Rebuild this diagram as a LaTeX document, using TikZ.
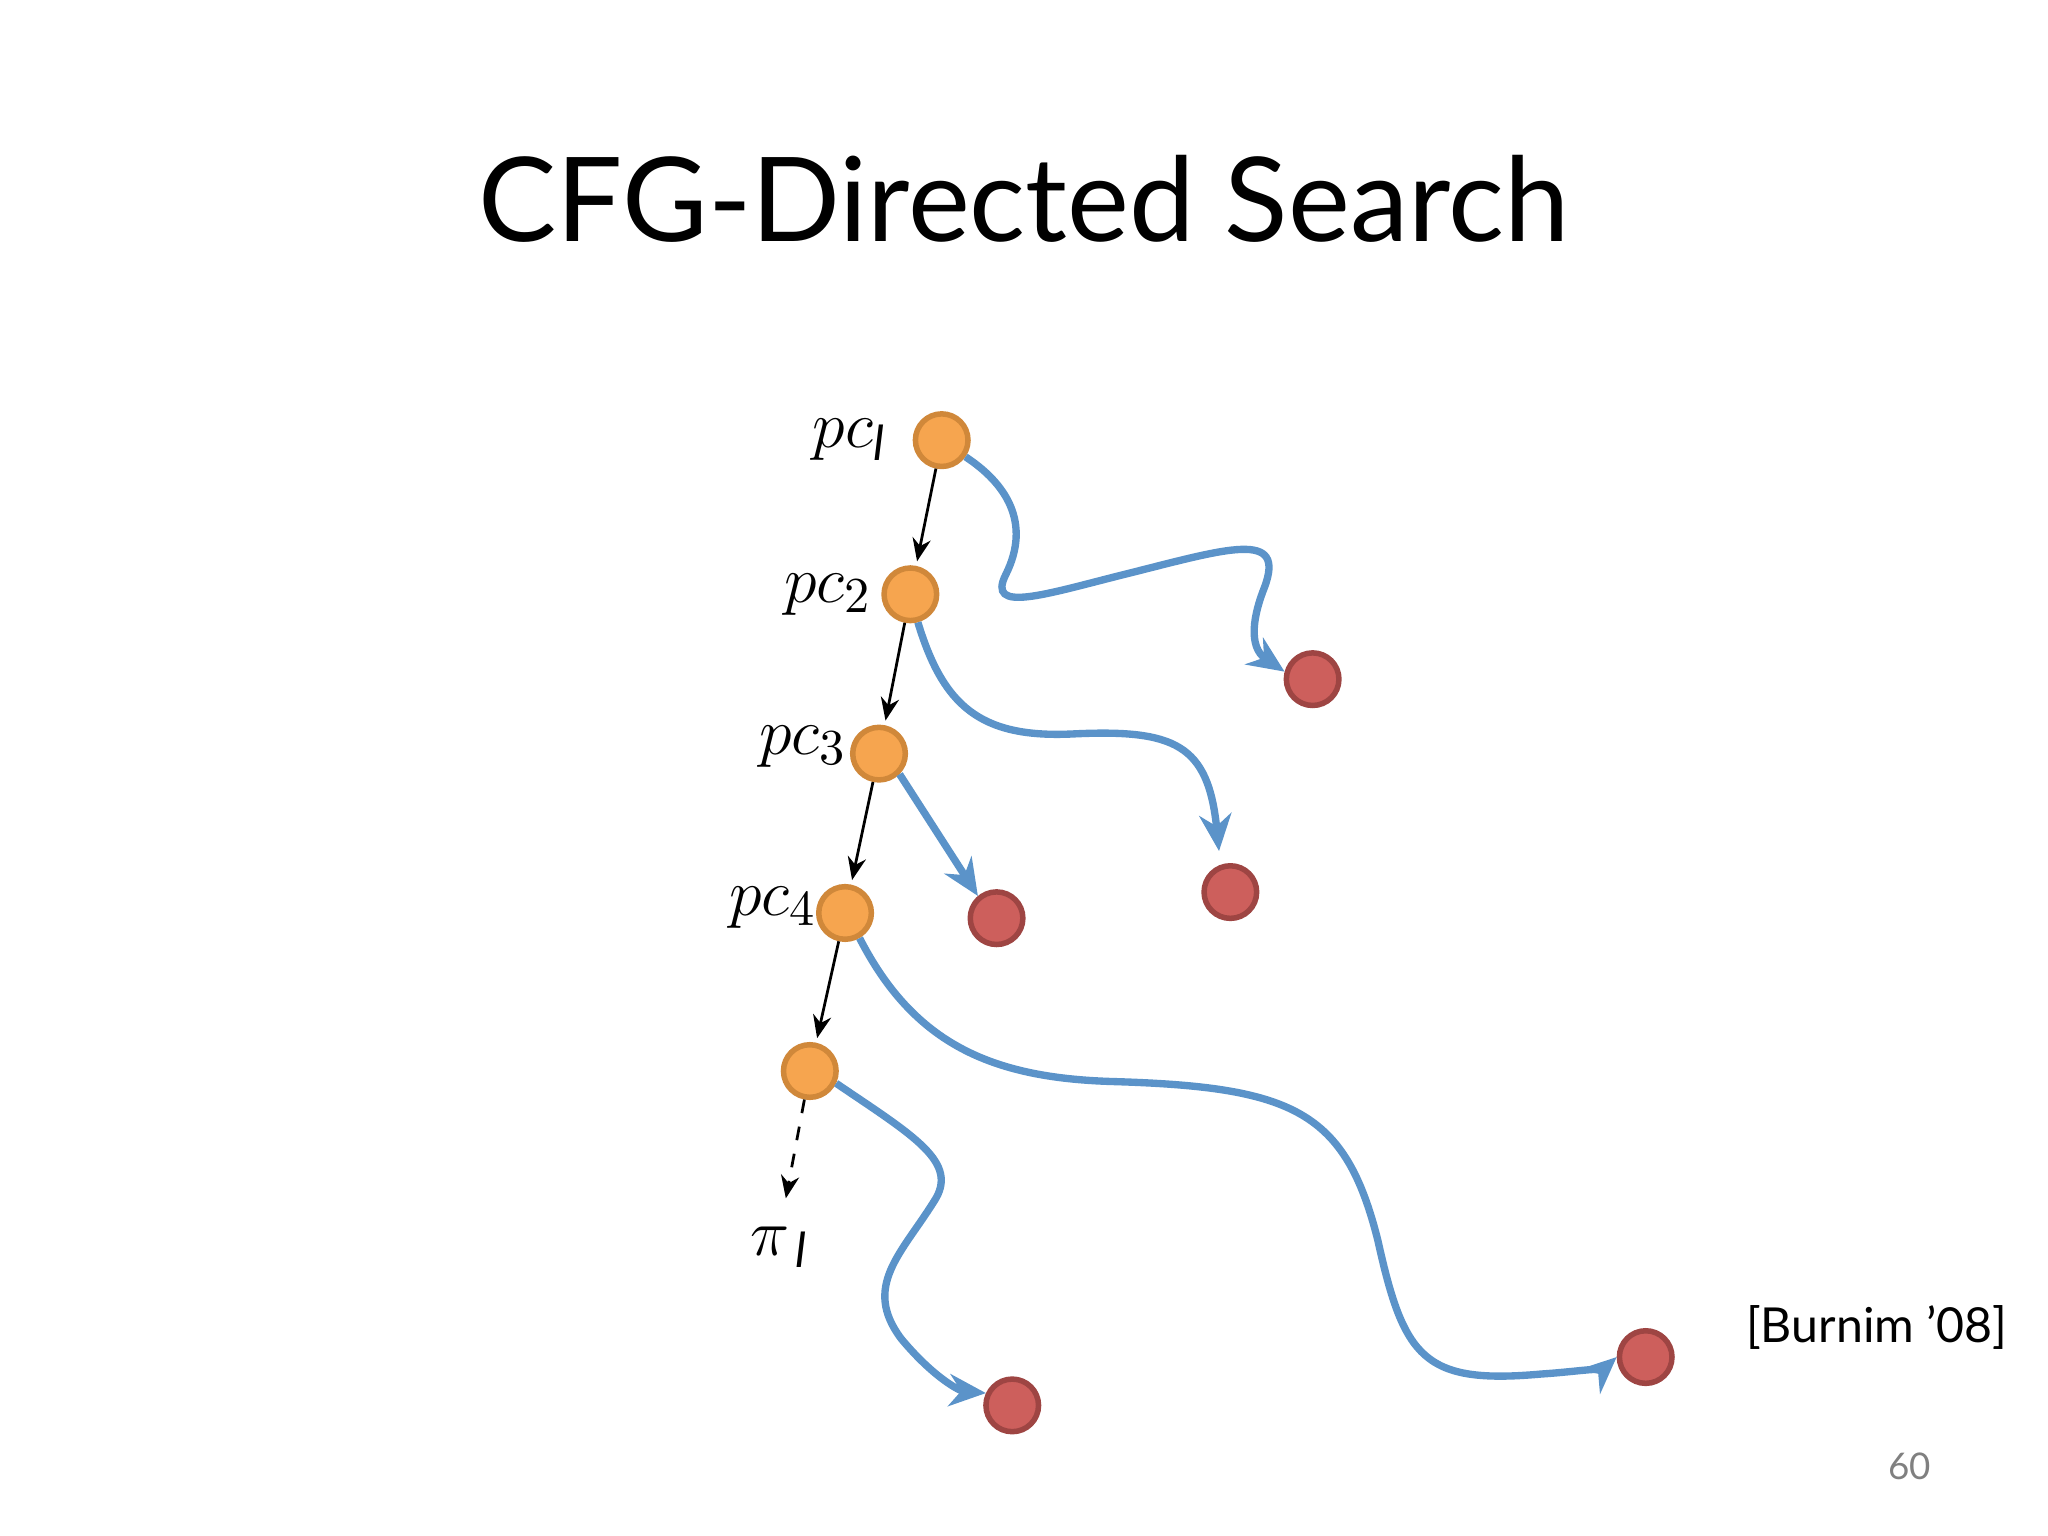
\documentclass[tikz,border=0pt]{standalone}
\usepackage{fontspec}
\setmainfont{Lato}
\usetikzlibrary{arrows.meta}
\definecolor{orfill}{HTML}{F6A54F}
\definecolor{ordraw}{HTML}{D0883A}
\definecolor{rdfill}{HTML}{CD5F5C}
\definecolor{rddraw}{HTML}{9E4543}
\definecolor{bl}{HTML}{5B93C9}
\tikzset{
  pcn/.style={circle,fill=orfill,draw=ordraw,line width=1.2pt,minimum size=1.15cm*0.35,inner sep=0pt},
  rdn/.style={circle,fill=rdfill,draw=rddraw,line width=1.2pt,minimum size=1.15cm*0.35,inner sep=0pt},
  bluearr/.style={draw=bl,line width=1.6pt,-{Stealth[length=8pt,width=7pt]}},
  blk/.style={draw=black,line width=0.6pt,-{Stealth[length=5pt,width=4pt]},shorten >=1pt},
  lab/.style={font=\fontsize{15}{17}\selectfont}
}
\begin{document}
\begin{tikzpicture}[x=0.01cm,y=-0.01cm]
\useasboundingbox (0,0) rectangle (1568,1176);
\node[font=\fontsize{25.5}{28}\selectfont] (title) at (784,152) {CFG-Directed Search};
\node[pcn] (pc1) at (721,337) {};
\node[pcn] (pc2) at (697,455) {};
\node[pcn] (pc3) at (673,577) {};
\node[pcn] (pc4) at (647,699) {};
\node[pcn] (pc5) at (620,820) {};
\node[rdn] (r1) at (1005,520) {};
\node[rdn] (r2) at (942,683) {};
\node[rdn] (r3) at (763,703) {};
\node[rdn] (r4) at (775,1076) {};
\node[rdn] (r5) at (1260,1039) {};
\node[lab,anchor=west] (l1) at (610,337) {$pc_{\mathit{l}}$};
\node[lab,anchor=west] (l2) at (588,455) {$pc_2$};
\node[lab,anchor=west] (l3) at (569,572) {$pc_3$};
\node[lab,anchor=west] (l4) at (546,695) {$pc_4$};
\coordinate (pe) at (601,921);
\node[lab] (pi) at (597,955) {$\pi_{\,\mathit{l}}$};
\draw[blk] (pc1) -- (pc2);
\draw[blk] (pc2) -- (pc3);
\draw[blk] (pc3) -- (pc4);
\draw[blk] (pc4) -- (pc5);
\draw[blk,dashed] (pc5) -- (pe);
\draw[bluearr] (pc1.-35) .. controls (770,370) and (790,400) .. (770,440) .. controls (755,470) and (800,455) .. (860,440) .. controls (940,420) and (985,405) .. (968,450) .. controls (960,470) and (955,495) .. (r1.165);
\draw[bluearr,shorten >=3pt] (pc2.-75) .. controls (722,540) and (750,565) .. (820,562) .. controls (900,558) and (925,570) .. (r2.110);
\draw[bluearr] (pc3.-45) -- (r3.130);
\draw[bluearr] (pc4.-60) .. controls (700,800) and (760,825) .. (850,828) .. controls (990,832) and (1030,850) .. (1055,950) .. controls (1075,1040) and (1090,1060) .. (1180,1052) .. controls (1210,1050) and (1230,1046) .. (r5.west);
\draw[bluearr] (pc5.-25) .. controls (700,870) and (735,890) .. (715,920) .. controls (690,960) and (660,985) .. (690,1025) .. controls (715,1055) and (735,1065) .. (r4.155);
\node[font=\fontsize{10.5}{12}\selectfont] (cite) at (1437,1016) {[Burnim ’08]};
\node[font=\fontsize{8}{10}\selectfont,text=gray] (pg) at (1462,1123) {60};
\end{tikzpicture}
\end{document}
